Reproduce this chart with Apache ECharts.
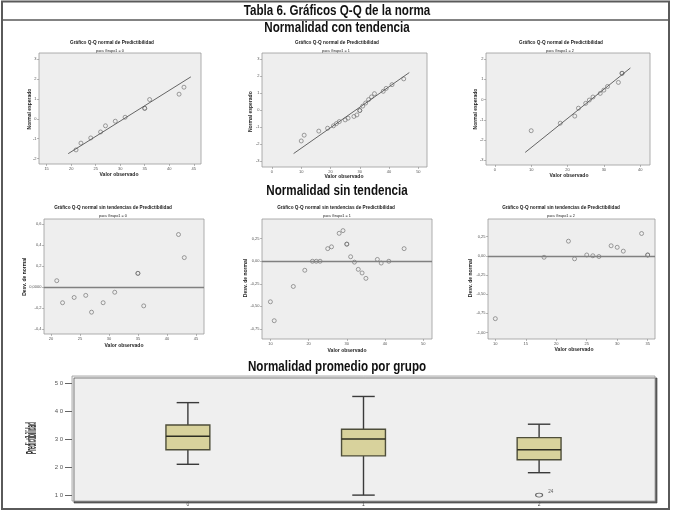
<!DOCTYPE html>
<html>
<head>
<meta charset="utf-8">
<script src="https://cdn.jsdelivr.net/npm/echarts@6/dist/echarts.min.js"></script>
<style>html,body{margin:0;padding:0;background:#fff}#main{width:673px;height:511px}</style>
</head>
<body>
<div id="main"></div>
<script>
// valores observados / normal esperado / desviacion, por grupo
var obs0 = [21, 22, 24, 26, 27, 29, 31, 35, 35, 36, 42, 43];
var esp0 = [-1.56, -1.22, -0.96, -0.66, -0.35, -0.12, 0.08, 0.53, 0.53, 0.97, 1.24, 1.59];
var desv0 = [0.06, -0.15, -0.10, -0.08, -0.24, -0.15, -0.05, 0.13, 0.13, -0.18, 0.50, 0.28];
var rectaObs0 = [19.4, 44.4];
var rectaEsp0 = [-1.75, 2.11];

var obs1 = [10, 11, 16, 19, 21, 22, 23, 25, 26, 28, 29, 30, 30, 31, 32, 33, 34, 35, 38, 39, 41, 45];
var esp1 = [-1.82, -1.48, -1.24, -1.07, -0.93, -0.80, -0.68, -0.58, -0.48, -0.38, -0.29, -0.03, -0.03, 0.23, 0.41, 0.61, 0.77, 0.96, 1.10, 1.27, 1.49, 1.83];
var desv1 = [-0.45, -0.66, -0.28, -0.10, 0.00, 0.00, 0.00, 0.14, 0.16, 0.31, 0.34, 0.19, 0.19, 0.05, -0.01, -0.09, -0.13, -0.19, 0.02, -0.02, 0.00, 0.14];
var rectaObs1 = [7.4, 46.9];
var rectaEsp1 = [-2.56, 2.20];

var obs2 = [10, 18, 22, 23, 25, 26, 27, 29, 30, 31, 34, 35, 35];
var esp2 = [-1.54, -1.17, -0.82, -0.43, -0.19, -0.03, 0.12, 0.30, 0.46, 0.64, 0.84, 1.29, 1.29];
var desv2 = [-0.82, -0.02, 0.19, -0.04, 0.01, 0.00, -0.01, 0.13, 0.11, 0.06, 0.29, 0.01, 0.01];
var rectaObs2 = [8.35, 37.3];
var rectaEsp2 = [-2.61, 1.55];

// cajas: grupo, min, Q1, mediana, Q3, max
var gruposCaja = [0, 1, 2];
var etiquetasGrupo = ['0', '1', '2'];
var cajaMin = [21, 10, 18];
var cajaQ1 = [26.2, 24, 22.6];
var cajaMed = [31, 30, 26.2];
var cajaQ3 = [35, 33.5, 30.5];
var cajaMax = [43, 45.2, 35.3];
var atipicoGrupo = [2];
var atipicoValor = [10];
var atipicoCaso = ['24'];

// marcas de los ejes
var tickX0 = [15, 20, 25, 30, 35, 40, 45], tickY0 = [-2, -1, 0, 1, 2, 3];
var tickX1 = [0, 10, 20, 30, 40, 50], tickY1 = [-3, -2, -1, 0, 1, 2, 3];
var tickX2 = [0, 10, 20, 30, 40], tickY2 = [-3, -2, -1, 0, 1, 2];
var tickX3 = [20, 25, 30, 35, 40, 45], tickY3 = [-0.4, -0.2, 0, 0.2, 0.4, 0.6];
var tickX4 = [10, 20, 30, 40, 50], tickY4 = [-0.75, -0.5, -0.25, 0, 0.25];
var tickX5 = [10, 15, 20, 25, 30, 35], tickY5 = [-1, -0.75, -0.5, -0.25, 0, 0.25];
var tickYCaja = [10, 20, 30, 40, 50];

function zip(a, b) {
	var r = [];
	for (var i = 0; i < a.length; i++) r.push([a[i], b[i]]);
	return r;
}
function coma(dec) {
	return function (v) { return v.toFixed(dec).replace('.', ','); };
}
function fmtDesv0(v) {
	if (v === 0) return '0,0000';
	return v.toFixed(1).replace('.', ',');
}

var fuenteTxt = '"Liberation Sans", Arial, sans-serif';

function eje(gi, min, max, ticks, fmt) {
	return {
		type: 'value', gridIndex: gi, min: min, max: max,
		axisLine: { show: false, onZero: false }, splitLine: { show: false },
		axisTick: { show: true, length: 2, customValues: ticks, lineStyle: { color: '#777', width: 0.5 } },
		axisLabel: { customValues: ticks, fontSize: 4, color: '#555', margin: 2.5, fontFamily: fuenteTxt, formatter: fmt }
	};
}
function gridPlot(l, t, w, h) {
	return { left: l, top: t, width: w, height: h, show: true, backgroundColor: '#eeeeee', borderColor: '#9a9a9a', borderWidth: 0.8 };
}
function puntos(gi, xs, ys) {
	return {
		type: 'scatter', xAxisIndex: gi, yAxisIndex: gi, data: zip(xs, ys), symbol: 'circle', symbolSize: 4,
		itemStyle: { color: 'rgba(0,0,0,0)', borderColor: '#6a6a6a', borderWidth: 0.8 }, silent: true
	};
}
function recta(gi, xs, ys) {
	return {
		type: 'line', xAxisIndex: gi, yAxisIndex: gi, data: zip(xs, ys), showSymbol: false, silent: true,
		lineStyle: { color: '#555', width: 0.9 }
	};
}
function puntosDesv(gi, xs, ys) {
	var s = puntos(gi, xs, ys);
	s.markLine = {
		silent: true, symbol: 'none', label: { show: false },
		lineStyle: { color: '#808080', width: 1.3, type: 'solid' },
		data: [{ yAxis: 0 }]
	};
	return s;
}
function txt(x, y, texto, size, bold, rot, extra) {
	var el = {
		type: 'text', x: x, y: y, rotation: rot || 0, silent: true,
		style: { text: texto, fontSize: size, fontWeight: bold ? 'bold' : 'normal', fontFamily: fuenteTxt, fill: '#222', align: 'center', verticalAlign: 'middle' }
	};
	if (extra) for (var k in extra) el[k] = extra[k];
	return el;
}
function cabecera(x, y, texto) {
	return {
		type: 'text', x: x, y: y, silent: true, scaleX: 0.83,
		style: { text: texto, fontSize: 14, fontWeight: 'bold', fontFamily: fuenteTxt, fill: '#111', align: 'center', verticalAlign: 'middle' }
	};
}

var datosCaja = [];
for (var i = 0; i < gruposCaja.length; i++) {
	datosCaja.push([gruposCaja[i], cajaMin[i], cajaQ1[i], cajaMed[i], cajaQ3[i], cajaMax[i]]);
}

function dibujaCaja(params, api) {
	var g = api.value(0);
	var lo = api.coord([g, api.value(1)]);
	var q1 = api.coord([g, api.value(2)]);
	var med = api.coord([g, api.value(3)]);
	var q3 = api.coord([g, api.value(4)]);
	var hi = api.coord([g, api.value(5)]);
	var banda = api.size([1, 0])[0];
	var hw = banda * 0.125, cw = banda * 0.064;
	var lin = { stroke: '#3a3a3a', lineWidth: 1.4 };
	return {
		type: 'group',
		children: [
			{ type: 'line', shape: { x1: lo[0], y1: lo[1], x2: q1[0], y2: q1[1] }, style: lin },
			{ type: 'line', shape: { x1: q3[0], y1: q3[1], x2: hi[0], y2: hi[1] }, style: lin },
			{ type: 'line', shape: { x1: lo[0] - cw, y1: lo[1], x2: lo[0] + cw, y2: lo[1] }, style: lin },
			{ type: 'line', shape: { x1: hi[0] - cw, y1: hi[1], x2: hi[0] + cw, y2: hi[1] }, style: lin },
			{ type: 'rect', shape: { x: q3[0] - hw, y: q3[1], width: hw * 2, height: q1[1] - q3[1] }, style: { fill: '#d8d29c', stroke: '#4e4e3a', lineWidth: 1.4 } },
			{ type: 'line', shape: { x1: med[0] - hw, y1: med[1], x2: med[0] + hw, y2: med[1] }, style: { stroke: '#2e2e22', lineWidth: 1.4 } }
		]
	};
}

var chart = echarts.init(document.getElementById('main'));
var option = {
	animation: false,
	backgroundColor: '#ffffff',
	grid: [
		gridPlot(39, 53, 162, 111),
		gridPlot(262, 53, 165, 114),
		gridPlot(486, 53, 164, 112),
		gridPlot(44, 219, 160, 115),
		gridPlot(262, 219, 170, 120),
		gridPlot(488, 219, 167, 120),
		{ left: 72, top: 376, width: 583, height: 125, show: true, backgroundColor: '#efefef', borderColor: '#9a9a9a', borderWidth: 0.8,
			shadowColor: 'rgba(60,60,60,0.8)', shadowBlur: 0, shadowOffsetX: 2, shadowOffsetY: 2 }
	],
	xAxis: [
		eje(0, 13.45, 46.47, tickX0),
		eje(1, -3.4, 52.95, tickX1),
		eje(2, -2.44, 42.7, tickX2),
		eje(3, 18.8, 46.4, tickX3),
		eje(4, 7.8, 52.3, tickX4),
		eje(5, 8.8, 36.2, tickX5),
		{
			type: 'value', gridIndex: 6, min: -0.66, max: 2.66,
			axisLine: { show: false, onZero: false }, splitLine: { show: false },
			axisTick: { show: true, length: 2, customValues: gruposCaja, lineStyle: { color: '#666' } },
			axisLabel: { customValues: gruposCaja, fontSize: 5, color: '#444', margin: 1.5, fontFamily: fuenteTxt,
				formatter: function (v) { return etiquetasGrupo[gruposCaja.indexOf(v)]; } }
		}
	],
	yAxis: [
		eje(0, -2.27, 3.31, tickY0),
		eje(1, -3.35, 3.35, tickY1),
		eje(2, -3.23, 2.29, tickY2),
		eje(3, -0.448, 0.648, tickY3, fmtDesv0),
		eje(4, -0.863, 0.469, tickY4, coma(2)),
		eje(5, -1.085, 0.479, tickY5, coma(2)),
		{
			type: 'value', gridIndex: 6, min: 7.9, max: 52.5,
			axisLine: { show: false, onZero: false }, splitLine: { show: false },
			axisTick: { show: true, length: 7, customValues: tickYCaja, lineStyle: { color: '#666', width: 1 } },
			axisLabel: { customValues: tickYCaja, fontSize: 6, color: '#555', margin: 9, fontFamily: fuenteTxt,
				formatter: function (v) { return String(v).split('').join(' '); } }
		}
	],
	series: [
		puntos(0, obs0, esp0), recta(0, rectaObs0, rectaEsp0),
		puntos(1, obs1, esp1), recta(1, rectaObs1, rectaEsp1),
		puntos(2, obs2, esp2), recta(2, rectaObs2, rectaEsp2),
		puntosDesv(3, obs0, desv0),
		puntosDesv(4, obs1, desv1),
		puntosDesv(5, obs2, desv2),
		{
			type: 'custom', xAxisIndex: 6, yAxisIndex: 6, data: datosCaja, renderItem: dibujaCaja, silent: true
		},
		{
			type: 'scatter', xAxisIndex: 6, yAxisIndex: 6, data: zip(atipicoGrupo, atipicoValor), silent: true,
			symbol: 'circle', symbolSize: [7, 4],
			itemStyle: { color: 'rgba(0,0,0,0)', borderColor: '#444', borderWidth: 0.9 },
			label: { show: true, position: 'right', offset: [0, -3], fontSize: 4.5, color: '#333',
				formatter: function (p) { return atipicoCaso[p.dataIndex]; } }
		}
	],
	graphic: [
		{ type: 'rect', silent: true, shape: { x: 2, y: 1.5, width: 667, height: 507.5 }, style: { fill: 'none', stroke: '#5a5a5a', lineWidth: 2 } },
		{ type: 'line', silent: true, shape: { x1: 2, y1: 20, x2: 669, y2: 20 }, style: { stroke: '#5a5a5a', lineWidth: 1.5 } },
		cabecera(337, 11, 'Tabla 6. Gráficos Q-Q de la norma'),
		cabecera(337, 28.5, 'Normalidad con tendencia'),
		cabecera(337, 191, 'Normalidad sin tendencia'),
		cabecera(337, 367.5, 'Normalidad promedio por grupo'),

		txt(112, 43, 'Gráfico Q-Q normal de Predictibilidad', 4.7, true),
		txt(337, 43, 'Gráfico Q-Q normal de Predictibilidad', 4.7, true),
		txt(561, 43, 'Gráfico Q-Q normal de Predictibilidad', 4.7, true),
		txt(110, 50.5, 'para Grupo1 = 0', 3.8, false),
		txt(336, 50.7, 'para Grupo1 = 1', 3.8, false),
		txt(560, 50.7, 'para Grupo1 = 2', 3.8, false),
		txt(119, 174.5, 'Valor observado', 5, true),
		txt(344, 176.7, 'Valor observado', 5, true),
		txt(569, 175.7, 'Valor observado', 5, true),
		txt(29.3, 109, 'Normal esperado', 5, true, Math.PI / 2),
		txt(251, 111.7, 'Normal esperado', 5, true, Math.PI / 2),
		txt(476, 109, 'Normal esperado', 5, true, Math.PI / 2),

		txt(113, 207.7, 'Gráfico Q-Q normal sin tendencias de Predictibilidad', 4.7, true),
		txt(336, 207.7, 'Gráfico Q-Q normal sin tendencias de Predictibilidad', 4.7, true),
		txt(561, 207.7, 'Gráfico Q-Q normal sin tendencias de Predictibilidad', 4.7, true),
		txt(113, 215.7, 'para Grupo1 = 0', 3.8, false),
		txt(337, 216, 'para Grupo1 = 1', 3.8, false),
		txt(561, 216, 'para Grupo1 = 2', 3.8, false),
		txt(124, 345.7, 'Valor observado', 5, true),
		txt(347, 350.7, 'Valor observado', 5, true),
		txt(574, 350, 'Valor observado', 5, true),
		txt(25, 276.7, 'Desv. de normal', 5, true, Math.PI / 2),
		txt(245.7, 278, 'Desv. de normal', 5, true, Math.PI / 2),
		txt(470.7, 278, 'Desv. de normal', 5, true, Math.PI / 2),

		txt(32, 438, 'Predictibilidad', 14, true, Math.PI / 2, { scaleX: 0.33 })
	]
};
chart.setOption(option);
</script>
</body>
</html>
